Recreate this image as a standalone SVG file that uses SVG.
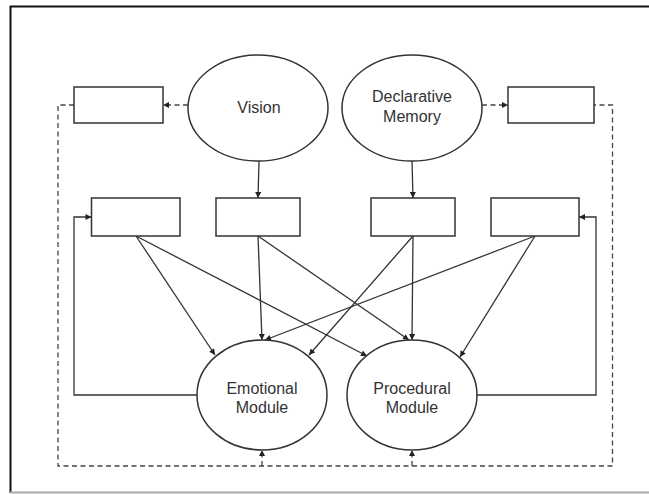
<svg xmlns="http://www.w3.org/2000/svg" width="649" height="494" viewBox="0 0 649 494">
  <defs>
    <marker id="arrow" viewBox="0 0 10 10" refX="10" refY="5" markerWidth="7" markerHeight="6" markerUnits="userSpaceOnUse" orient="auto">
      <path d="M0,0 L10,5 L0,10 z" fill="#222"/>
    </marker>
  </defs>
  <style>
    .node { fill: #fff; stroke: #333; stroke-width: 1.5; }
    .label { font-family: "Liberation Sans", Arial, sans-serif; font-size: 16px; fill: #333; text-anchor: middle; }
    .link { fill: none; stroke: #333; stroke-width: 1.3; }
    .dashed { fill: none; stroke: #444; stroke-width: 1.3; stroke-dasharray: 5 3.5; }
  </style>
  <rect width="649" height="494" fill="#fff"/>

  <!-- page frame -->
  <g id="frame">
    <line x1="10" y1="6.5" x2="649" y2="6.5" stroke="#111" stroke-width="2"/>
    <line x1="10.5" y1="6" x2="10.5" y2="493" stroke="#111" stroke-width="2"/>
    <line x1="10" y1="492.5" x2="649" y2="492.5" stroke="#aaa" stroke-width="2"/>
  </g>

  <!-- connectors -->
  <g id="connectors">
    <!-- perception to buffers -->
    <line class="link" x1="259" y1="161" x2="258" y2="198" marker-end="url(#arrow)"/>
    <line class="link" x1="412" y1="161" x2="413" y2="198" marker-end="url(#arrow)"/>
    <line class="dashed" x1="188" y1="105" x2="163" y2="105" marker-end="url(#arrow)"/>
    <line class="dashed" x1="482" y1="105" x2="508" y2="105" marker-end="url(#arrow)"/>

    <!-- buffers to modules -->
    <line class="link" x1="136" y1="236" x2="215" y2="355" marker-end="url(#arrow)"/>
    <line class="link" x1="136" y1="236" x2="367" y2="356" marker-end="url(#arrow)"/>
    <line class="link" x1="258" y1="236" x2="262" y2="340" marker-end="url(#arrow)"/>
    <line class="link" x1="258" y1="236" x2="409" y2="340" marker-end="url(#arrow)"/>
    <line class="link" x1="413" y1="236" x2="412" y2="340" marker-end="url(#arrow)"/>
    <line class="link" x1="413" y1="236" x2="309" y2="355" marker-end="url(#arrow)"/>
    <line class="link" x1="535" y1="236" x2="265" y2="340" marker-end="url(#arrow)"/>
    <line class="link" x1="535" y1="236" x2="460" y2="357" marker-end="url(#arrow)"/>

    <!-- module feedback to outer buffers -->
    <polyline class="link" points="197,395 74,395 74,217 91.5,217" marker-end="url(#arrow)"/>
    <polyline class="link" points="477,395 596,395 596,217 579,217" marker-end="url(#arrow)"/>

    <!-- dashed loop back into modules -->
    <polyline class="dashed" points="74,105 58,105 58,466 612.5,466 612.5,105 594,105"/>
    <line class="dashed" x1="262" y1="466" x2="262" y2="450" marker-end="url(#arrow)"/>
    <line class="dashed" x1="412" y1="466" x2="412" y2="450" marker-end="url(#arrow)"/>
  </g>

  <!-- nodes -->
  <g id="vision">
    <ellipse class="node" cx="258" cy="108" rx="70" ry="53"/>
    <text class="label" x="259" y="112.5">Vision</text>
  </g>
  <g id="declarative-memory">
    <ellipse class="node" cx="412" cy="108" rx="70" ry="53"/>
    <text class="label" x="412" y="102">Declarative</text>
    <text class="label" x="412" y="122">Memory</text>
  </g>
  <g id="vision-side-buffer">
    <rect class="node" x="74" y="87" width="89" height="36"/>
  </g>
  <g id="memory-side-buffer">
    <rect class="node" x="508" y="87" width="86" height="36"/>
  </g>
  <g id="buffer-1">
    <rect class="node" x="91.5" y="198" width="88.5" height="38"/>
  </g>
  <g id="buffer-2">
    <rect class="node" x="216" y="198" width="84" height="38"/>
  </g>
  <g id="buffer-3">
    <rect class="node" x="371" y="198" width="84" height="38"/>
  </g>
  <g id="buffer-4">
    <rect class="node" x="491" y="198" width="88" height="38"/>
  </g>
  <g id="emotional-module">
    <ellipse class="node" cx="262" cy="395" rx="65" ry="55"/>
    <text class="label" x="262" y="394">Emotional</text>
    <text class="label" x="262" y="413">Module</text>
  </g>
  <g id="procedural-module">
    <ellipse class="node" cx="412" cy="395" rx="65" ry="55"/>
    <text class="label" x="412" y="394">Procedural</text>
    <text class="label" x="412" y="413">Module</text>
  </g>
</svg>
